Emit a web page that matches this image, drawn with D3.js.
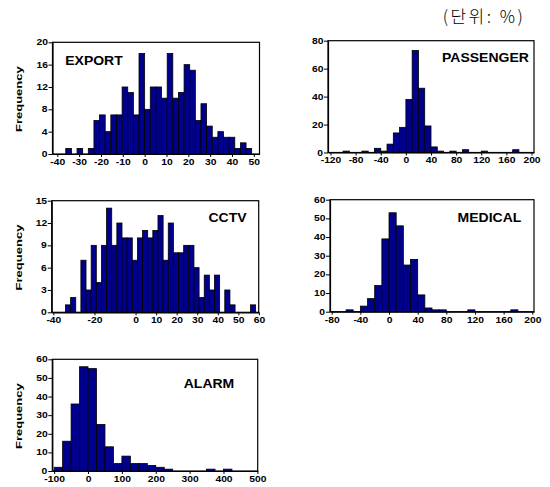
<!DOCTYPE html>
<html>
<head>
<meta charset="utf-8">
<script src="https://cdn.jsdelivr.net/npm/d3@7"></script>
<style>
  body { margin: 0; background: #fff; }
  svg text { font-family: Arial, "Liberation Sans", sans-serif; }
  .tick text, .title { transform-box: fill-box; transform-origin: center; }
</style>
</head>
<body>
<div id="chart"></div>
<script>
// frequency counts per bin
var exportCounts = [1,0,1,0,1,6,7,4,7,7,12,11,7,18,8,12,12,10,18,10,11,16,15,6,9,5,3,4,3,3,1,2,1];
var passengerCounts = [1,0,0,1,0,3,1,6,14,18,38,73,46,19,4,1,0,1,0,2,0,0,1,0,0,0,0,2];
var cctvCounts = [1,2,0,7,3,9,4,9,14,9,12,10,10,7,10,11,10,11,13,7,12,8,8,9,9,6,2,5,3,5,0,3,1,0,0,0,1];
var medicalCounts = [1,0,3,7,14,39,53,46,25,28,9,2,1,1,0,0,0,1,0,0,0,0,0,1];
var alarmCounts = [2,16,36,56,55,25,13,4,8,4,4,3,2,1,0,0,0,0,1,0,1];

// bins: first edge and width
var exportBin = [-36.12, 2.58];
var passengerBin = [-100, 10];
var cctvBin = [-34.1, 2.5];
var medicalBin = [-60, 10];
var alarmBin = [-100, 25];

// tick labels
var exportX = [-40,-30,-20,-10,0,10,20,30,40,50];
var exportY = [0,4,8,12,16,20];
var passengerX = [-120,-80,-40,0,40,80,120,160,200];
var passengerY = [0,20,40,60,80];
var cctvX = [-40,-20,0,10,20,30,40,50,60];
var cctvY = [0,3,6,9,12,15];
var medicalX = [-80,-40,0,40,80,120,160,200];
var medicalY = [0,10,20,30,40,50,60];
var alarmX = [-100,0,100,200,300,400,500];
var alarmY = [0,10,20,30,40,50,60];

var titles = ["EXPORT", "PASSENGER", "CCTV", "MEDICAL", "ALARM"];
var unitLabel = "(단위: %)";
var yLabel = "Frequency";

var panels = [
  {title: titles[0], counts: exportCounts, bin: exportBin, xt: exportX, yt: exportY,
   dom: [-42.2, 52.6], box: [52.5, 259.5, 42.3, 154], tx: 94, ty: 65, freq: true},
  {title: titles[1], counts: passengerCounts, bin: passengerBin, xt: passengerX, yt: passengerY,
   dom: [-124, 204], box: [328, 534, 40.7, 152.5], tx: 485.5, ty: 62.3, freq: false},
  {title: titles[2], counts: cctvCounts, bin: cctvBin, xt: cctvX, yt: cctvY,
   dom: [-40.8, 59.9], box: [51.7, 258.7, 200.7, 312.3], tx: 227.5, ty: 222.5, freq: true},
  {title: titles[3], counts: medicalCounts, bin: medicalBin, xt: medicalX, yt: medicalY,
   dom: [-82.4, 202.4], box: [330, 534, 199.7, 311.7], tx: 489.5, ty: 222.5, freq: false},
  {title: titles[4], counts: alarmCounts, bin: alarmBin, xt: alarmX, yt: alarmY,
   dom: [-105.5, 501], box: [52.3, 257.7, 359.3, 471], tx: 209, ty: 388.5, freq: true}
];

var svg = d3.select("#chart").append("svg")
  .attr("width", 550)
  .attr("height", 487);

svg.append("text")
  .attr("x", 484)
  .attr("y", 23)
  .attr("text-anchor", "middle")
  .style("font-family", "'Noto Sans CJK KR', sans-serif")
  .attr("font-size", "17px")
  .attr("font-weight", 300)
  .attr("letter-spacing", "2.5px")
  .text(unitLabel);

panels.forEach(function (p) {
  var l = p.box[0], r = p.box[1], t = p.box[2], b = p.box[3];
  var ymax = p.yt[p.yt.length - 1];

  var x = d3.scaleLinear().domain(p.dom).range([l, r]);
  var y = d3.scaleLinear().domain([0, ymax]).range([b, t]);

  var g = svg.append("g");

  // frame
  g.append("rect")
    .attr("x", l).attr("y", t)
    .attr("width", r - l).attr("height", b - t)
    .attr("fill", "none")
    .attr("stroke", "#000")
    .attr("stroke-width", 1.2);

  // bars
  var bins = p.counts.map(function (c, i) {
    return {x0: p.bin[0] + i * p.bin[1], x1: p.bin[0] + (i + 1) * p.bin[1], n: c};
  }).filter(function (d) { return d.n > 0; });

  g.selectAll("rect.bar")
    .data(bins)
    .enter().append("rect")
    .attr("class", "bar")
    .attr("x", d => x(d.x0))
    .attr("width", d => x(d.x1) - x(d.x0))
    .attr("y", d => y(d.n))
    .attr("height", d => y(0) - y(d.n))
    .attr("fill", "#00008c")
    .attr("stroke", "#000")
    .attr("stroke-width", 0.8);

  var fmt = d => String(d); // plain hyphen minus like the original

  // x axis
  var xa = g.append("g")
    .attr("transform", "translate(0," + b + ")")
    .call(d3.axisBottom(x).tickValues(p.xt).tickFormat(fmt).tickSize(3).tickSizeOuter(0).tickPadding(1.8));

  // y axis
  var ya = g.append("g")
    .attr("transform", "translate(" + l + ",0)")
    .call(d3.axisLeft(y).tickValues(p.yt).tickFormat(fmt).tickSize(4).tickSizeOuter(0).tickPadding(1.5));

  [xa, ya].forEach(function (a) {
    a.attr("font-family", null).attr("font-size", null);
    a.select(".domain").attr("stroke-width", 1.2);
    a.selectAll(".tick line").attr("stroke-width", 1);
    a.selectAll(".tick text")
      .attr("font-size", "8.6px")
      .attr("font-weight", "bold")
      .attr("fill", "#000")
      .style("transform", "scaleX(1.2)");
  });
  ya.selectAll(".tick text").attr("dy", "0.3em");

  // panel title
  g.append("text")
    .attr("class", "title")
    .attr("x", p.tx)
    .attr("y", p.ty)
    .attr("text-anchor", "middle")
    .attr("font-size", "12.5px")
    .attr("font-weight", "bold")
    .style("transform", "scaleX(1.12)")
    .text(p.title);

  if (p.freq) {
    g.append("text")
      .attr("transform", "translate(21.5," + ((t + b) / 2 + 1) + ") rotate(-90) scale(1.45,1)")
      .attr("text-anchor", "middle")
      .attr("font-size", "9px")
      .attr("font-weight", "bold")
      .text(yLabel);
  }
});
</script>
</body>
</html>
